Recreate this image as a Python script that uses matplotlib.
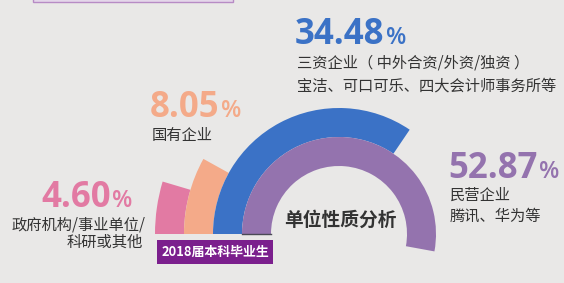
import matplotlib
matplotlib.use("Agg")
import matplotlib.pyplot as plt
import numpy as np
from matplotlib.patches import Rectangle

plt.rcParams['font.family'] = ['Noto Sans CJK SC', 'DejaVu Sans']

# ---- data ----
categories = ["政府机构/事业单位/\n科研或其他", "国有企业",
              "三资企业（ 中外合资/外资/独资 ）\n宝洁、可口可乐、四大会计师事务所等",
              "民营企业\n腾讯、华为等"]
values = [4.60, 8.05, 34.48, 52.87]
value_labels = ["4.60", "8.05", "34.48", "52.87"]
colors = ["#E27AA3", "#F4AA89", "#3B72C6", "#9473AE"]
title = "单位性质分析"
badge = "2018届本科毕业生"

BG = "#E9E8E7"
W, H = 564, 283
fig = plt.figure(figsize=(W / 100, H / 100), dpi=100, facecolor=BG)

# pixel axes for text/decorations
tax = fig.add_axes([0, 0, 1, 1])
tax.set_xlim(0, W)
tax.set_ylim(H, 0)
tax.set_axis_off()
tax.patch.set_alpha(0)

# polar axes for rings
cx, cy, R = 339, 234, 200
pax = fig.add_axes([(cx - R) / W, (H - cy - R) / H, 2 * R / W, 2 * R / H],
                   projection='polar')
pax.set_theta_zero_location('W')
pax.set_theta_direction(-1)
pax.set_ylim(0, R)
pax.set_axis_off()
pax.patch.set_alpha(0)

ring_w = 29
inner0 = 68
n = len(values)
for i, (v, c) in enumerate(zip(values, colors)):
    bottom = inner0 + (n - 1 - i) * ring_w
    pax.bar(0, ring_w, width=v / 100 * 2 * np.pi, bottom=bottom,
            align='edge', color=c, edgecolor='none', linewidth=0)
pax.plot([0, 0], [inner0, inner0 + ring_w], color="#4a4a55", lw=1)

# top box
tax.add_patch(Rectangle((33, -4), 200, 6, facecolor="#E4D6EA",
                        edgecolor="#B78BC5", lw=1))

num_font = dict(family=['Open Sans', 'DejaVu Sans'], weight='bold')
fig.canvas.draw()
renderer = fig.canvas.get_renderer()


def number(x, ybase, txt, color, size=25, pct_size=17):
    t = tax.text(x, ybase, txt, color=color, fontsize=size, va='baseline',
                 ha='left', **num_font)
    bb = t.get_window_extent(renderer=renderer)
    inv = tax.transData.inverted()
    x1 = inv.transform((bb.x1, bb.y0))[0]
    tax.text(x1 + 1.5, ybase, "%", color=color, fontsize=pct_size,
             va='baseline', ha='left', family=['Open Sans', 'DejaVu Sans'],
             weight='semibold')


txt_color = "#333333"
cjk = 11
lines = [c.split("\n") for c in categories]

# 34.48%
number(295, 44, value_labels[2], colors[2])
tax.text(297, 55, lines[2][0], fontsize=cjk, color=txt_color, va='top')
tax.text(297, 78, lines[2][1], fontsize=cjk, color=txt_color, va='top')

# 8.05%
number(150, 117, value_labels[1], colors[1])
tax.text(152, 127, lines[1][0], fontsize=cjk, color=txt_color, va='top')

# 4.60%
number(41, 207, value_labels[0], colors[0])
tax.text(146, 216, lines[0][0], fontsize=cjk, color=txt_color, va='top', ha='right')
tax.text(143, 234, lines[0][1], fontsize=cjk, color=txt_color, va='top', ha='right')

# 52.87%
number(448, 178, value_labels[3], colors[3])
tax.text(450, 187, lines[3][0], fontsize=cjk, color=txt_color, va='top')
tax.text(450, 208, lines[3][1], fontsize=cjk, color=txt_color, va='top')

# centre title
tax.text(340, 220, title, fontsize=13.5, color="#333333", weight='bold',
         ha='center', va='center')

# badge
tax.add_patch(Rectangle((157, 240), 116, 24, facecolor="#7B1F8D", edgecolor='none'))
tax.text(215, 252, badge, fontsize=9.3, color='white', weight='bold',
         ha='center', va='center')

fig.savefig("out.png", dpi=100, facecolor=BG)
